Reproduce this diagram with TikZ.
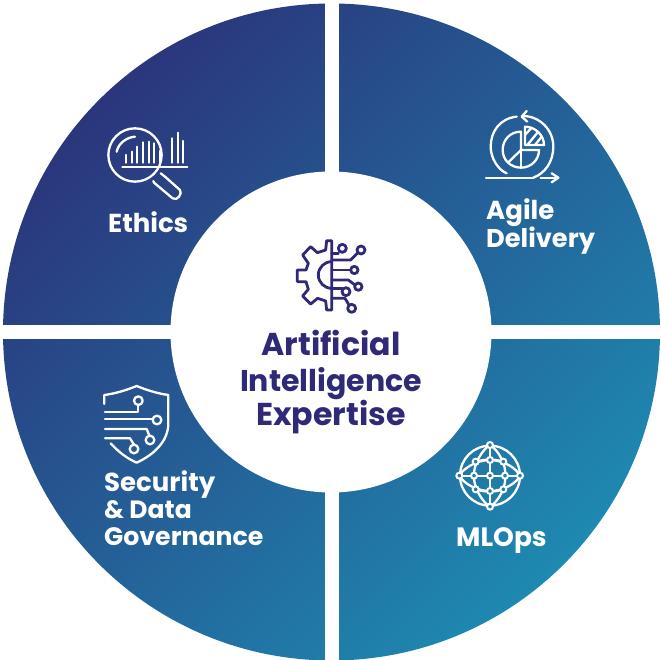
\documentclass[tikz,border=0pt]{standalone}
\usepackage{fontspec}
\setmainfont{Poppins}
\definecolor{navy}{HTML}{2E2A78}
\definecolor{gradA}{HTML}{2B357C}
\definecolor{gradB}{HTML}{1E89B1}
\tikzset{
 icon/.style={draw=white,line width=2.3pt,line cap=round,line join=round},
 chip/.style={draw=navy,line width=2.8pt,line cap=round,line join=round},
 dotw/.style={draw=white,line width=2pt},
 lbl/.style={text=white,font=\bfseries\fontsize{#1}{#1}\selectfont,anchor=base west,inner sep=0pt},
 lbl/.default=26,
 ctr/.style={text=navy,font=\bfseries\fontsize{#1}{#1}\selectfont,anchor=base,inner sep=0pt},
 ctr/.default=30,
}
\begin{document}
\begin{tikzpicture}[x=1pt,y=-1pt]
\useasboundingbox (0,0) rectangle (660,660);
\fill[white] (0,0) rectangle (660,660);
\begin{scope}
\clip (331.5,332) circle[radius=328.5];
\shade[shading=axis,left color=gradA,right color=gradB,shading angle=45] (0,0) rectangle (660,660);
\end{scope}
\fill[white] (325,0) rectangle (339,660);
\fill[white] (0,325) rectangle (660,339);
\fill[white] (331,332) circle[radius=160.5];
% Ethics icon
\begin{scope}[shift={(90,110)},x=0.3333pt,y=-0.3333pt]
\draw[icon] (135,135) circle[radius=80];
\draw[icon] (80,125) .. controls (85,100) and (110,82) .. (135,80);
\foreach \x/\t in {108/135,125/125,142/110,160/97,177/95,193/100,211/122,245/85,263/68,280/93}
  \draw[icon] (\x,158) -- (\x,\t);
\draw[icon] (97,172) -- (292,172);
\draw[icon] (212,190) -- (225,200) -- (270,240) .. controls (278,250) and (262,275) .. (248,265) -- (192,218) -- (190,213);
\end{scope}
% Agile icon
\begin{scope}[shift={(470,105)},x=0.3333pt,y=-0.3333pt]
\draw[icon] (140,35) .. controls (90,40) and (62,80) .. (62,125) .. controls (62,160) and (85,195) .. (110,205);
\draw[icon] (158,33) .. controls (210,33) and (250,75) .. (250,125) .. controls (250,170) and (225,205) .. (190,218);
\draw[icon] (170,18) -- (155,35) -- (172,50);
\draw[icon] (48,218) -- (190,218);
\draw[icon] (212,218) -- (265,218);
\draw[icon] (245,205) -- (265,218) -- (245,232);
\draw[icon] (153,80) .. controls (120,80) and (98,105) .. (98,135) .. controls (98,165) and (122,188) .. (153,188) .. controls (183,188) and (207,165) .. (207,135) -- (153,135) -- cycle;
\draw[icon] (153,135) -- (153,188);
\draw[icon] (153,135) -- (115,172);
\draw[icon] (165,65) .. controls (195,65) and (222,90) .. (222,120) -- (165,120) -- cycle;
\draw[icon] (165,90) -- (185,68);
\draw[icon] (172,120) -- (205,80);
\draw[icon] (195,120) -- (215,95);
\end{scope}
% Chip icon
\begin{scope}[shift={(280,230)},x=0.3333pt,y=-0.3333pt]
\draw[chip] (155,32) -- (140,32) -- (137,60) -- (112,68) -- (92,50) -- (68,75) -- (85,100) -- (78,120) -- (52,120) -- (52,155) -- (78,155) -- (85,178) -- (68,198) -- (92,222) -- (113,205) -- (137,213) -- (140,240) -- (155,240) -- cycle;
\draw[chip] (155,95) arc[start angle=90,end angle=270,x radius=40,y radius=-40];
\draw[chip] (155,70) -- (175,70);
\draw[chip] (187,55) circle[radius=12];
\draw[chip] (155,90) -- (212,90) -- (234,68);
\draw[chip] (243,60) circle[radius=12];
\draw[chip] (155,120) -- (212,120);
\draw[chip] (223,120) circle[radius=11];
\draw[chip] (155,150) -- (205,150) -- (225,165);
\draw[chip] (235,170) circle[radius=11];
\draw[chip] (155,175) -- (187,175);
\draw[chip] (198,185) circle[radius=12];
\draw[chip] (155,205) -- (195,205) -- (207,225);
\draw[chip] (215,235) circle[radius=12];
\end{scope}
% Shield icon
\begin{scope}[shift={(90,380)},x=0.3333pt,y=-0.3333pt]
\draw[icon] (43,72) -- (43,45) .. controls (80,40) and (110,30) .. (140,18) .. controls (170,30) and (200,40) .. (235,45) -- (235,130) .. controls (235,185) and (190,225) .. (140,248) .. controls (110,235) and (85,215) .. (62,190);
\draw[icon] (45,95) -- (145,95) -- (145,75);
\draw[icon] (145,62) circle[radius=13];
\draw[icon] (45,118) -- (188,118);
\draw[icon] (201,120) circle[radius=13];
\draw[icon] (45,147) -- (170,147) -- (178,167);
\draw[icon] (180,180) circle[radius=13];
\draw[icon] (45,175) -- (120,175) -- (132,194);
\draw[icon] (132,207) circle[radius=13];
\end{scope}
% Network icon
\begin{scope}[shift={(445,435)},x=0.3333pt,y=-0.3333pt]
\draw[icon] (135,122) circle[radius=90];
\draw[icon] (43,122) -- (225,122);
\draw[icon] (135,30) -- (135,215);
\draw[icon] (92,80) .. controls (120,72) and (150,72) .. (175,80);
\draw[icon] (92,163) .. controls (120,172) and (150,172) .. (175,163);
\draw[icon] (135,30) .. controls (110,45) and (85,90) .. (87,122) .. controls (85,155) and (110,200) .. (135,215);
\draw[icon] (135,30) .. controls (160,45) and (185,90) .. (180,122) .. controls (185,155) and (160,200) .. (135,215);
\draw[icon] (43,122) .. controls (55,100) and (95,75) .. (135,75) .. controls (175,75) and (215,100) .. (225,122);
\draw[icon] (43,122) .. controls (55,145) and (95,168) .. (135,168) .. controls (175,168) and (215,145) .. (225,122);
\foreach \p in {(135,30),(135,215),(43,122),(225,122),(135,75),(135,122),(135,168),(87,122),(180,122),(92,80),(175,80),(92,163),(175,163)}
  \fill[fill=gradB!85!gradA,dotw] \p circle[radius=9];
\end{scope}
% Labels
\node[lbl] (ethics) at (108,232.5) {Ethics};
\node[lbl] (agile) at (486,219) {Agile};
\node[lbl=25.7] (delivery) at (486,247) {Delivery};
\node[lbl] (security) at (104,491) {Security};
\node[lbl=25] (data) at (104,518.5) {\& Data};
\node[lbl=25.2] (gov) at (104,545.5) {Governance};
\node[lbl=26.5] (mlops) at (456,546) {MLOps};
\node[ctr=31.6] (art) at (331,355) {Artificial};
\node[ctr=30] (int) at (331,391) {Intelligence};
\node[ctr=31.6] (exp) at (331,425) {Expertise};
\end{tikzpicture}
\end{document}
